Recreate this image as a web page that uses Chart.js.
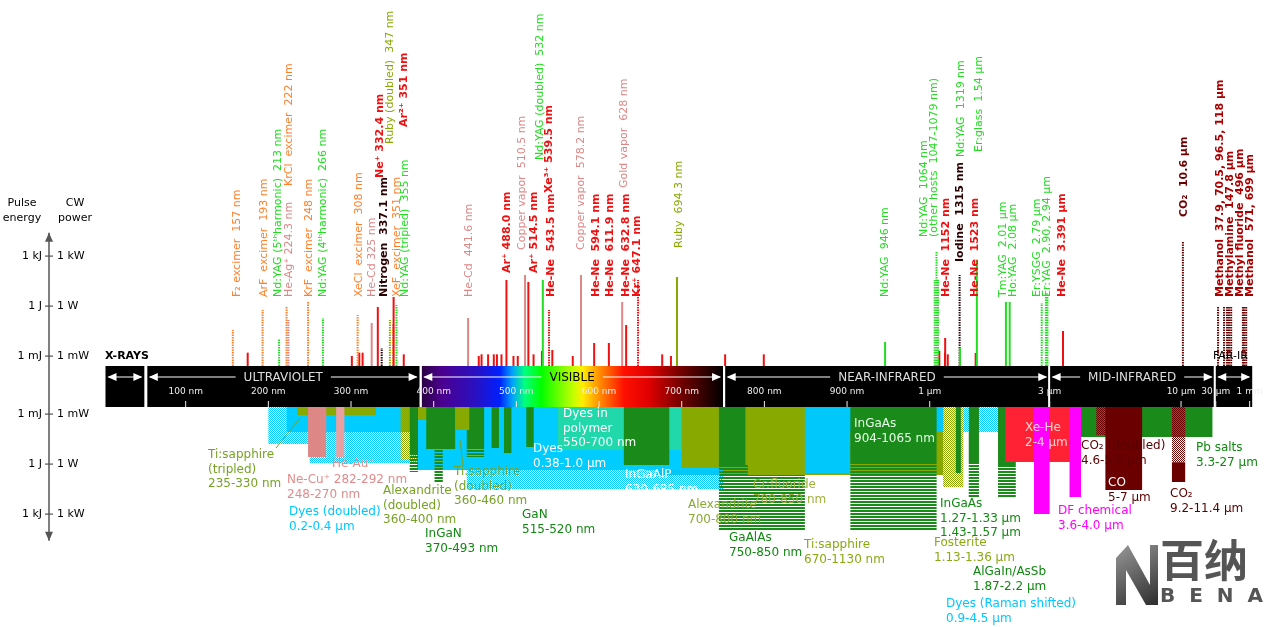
<!DOCTYPE html>
<html><head><meta charset="utf-8">
<script src="https://cdn.jsdelivr.net/npm/chart.js@4.4.1/dist/chart.umd.min.js"></script>
<style>html,body{margin:0;padding:0;background:#fff}#wrap{width:1280px;height:627px}</style>
</head><body><div id="wrap"><canvas id="c" width="1280" height="627"></canvas></div>
<script>
// ---------- DATA ----------
// Discrete laser lines: wavelength (nm), log10(pulse energy / 1 mJ) reached, colour key, dotted?
const lineWavelengths = [157,193,213,222,224.3,248,266,308,325,332.4,337.1,347,351,351.5,355,441.6,488,510.5,514.5,532,539.5,543.5,578.2,594.1,611.9,628,632.8,647.1,694.3,946,1047,1064,1079,1152,1315,1319,1523,1540,2010,2080,2790,2900,2940,3391,10600,37900,70500,96500,118000,147800,496000,571000,699000];
const lineLevels      = [1.56,2.76,1.02,3.0,2.16,3.24,2.28,2.46,1.98,2.94,0.48,2.16,1.9,3.54,3.06,2.28,4.56,4.86,4.44,4.56,2.76,0.36,4.86,0.78,0.78,3.24,1.86,4.56,4.74,0.84,4.56,6.24,4.56,1.08,4.86,0.5,0.18,5.76,3.24,3.24,3.18,3.78,3.78,1.5,6.84,2.94,2.94,2.94,2.94,2.94,2.94,2.94,2.94];
const lineColors      = ['orange','orange','green','orange','pink','orange','green','orange','pink','red','dark','olive','orange','red','green','pink','red','pink','red','green','red','red','pink','red','red','pink','red','red','olive','green','green','green','green','red','dark','green','red','green','green','green','green','green','green','red','maroon','maroon','maroon','maroon','maroon','maroon','maroon','maroon','maroon'];
const lineDotted      = [1,1,1,1,1,1,1,1,0,0,1,1,1,0,1,0,0,0,0,0,1,0,0,0,0,0,0,1,0,0,1,1,1,0,1,0,0,0,0,0,1,1,1,0,1,1,1,1,1,1,1,1,1];
// Minor weak lines near the band
const minorWavelengths = [175,301,310,314,363.8,454.5,457.9,465.8,472.7,476.5,482,496.5,501.7,520.8,530.9,568.2,676.4,687,752.5,799.3,1092,1150,1180];
const minorLevels      = [0.2,0.0,0.2,0.2,0.1,0.0,0.1,0.1,0.1,0.1,0.1,0.0,0.0,0.1,0.3,0.0,0.1,0.0,0.1,0.1,0.3,0.2,0.1];

// Tunable lasers: start nm, end nm, top level, bottom level = log10(CW power / 1 mW), colour key, fill
const tunStart = [670,440,380,200,222,250,235,248,282,360,380,371,371,391,401,440,440,470,485,512,426,550,630,700,745,745,780,780,849,900,904,904,1130,1270,1430,1430,1870,1870,3300,2000,2600,3600,4600,5000,9200,9200];
const tunEnd   = [1130,750,750,400,400,381,330,270,292,380,430,381,381,426,411,461,461,479,494,521,443,700,685,800,849,777,850,850,904,4500,1065,1065,1360,1330,1570,1570,2200,2200,27000,4000,3000,4000,5800,7000,11400,11400];
const tunTop   = [null,null,null,null,null,null,null,null,null,null,null,null,2.34,null,null,null,2.04,null,null,null,null,null,null,null,3.06,null,null,1.08,null,null,null,2.94,null,null,null,2.94,null,3.18,null,null,null,null,null,null,null,2.9];
const tunBot   = [3.66,4.5,3.36,1.8,1.08,2.94,0.06,2.58,2.58,2.76,0.36,2.34,3.48,2.1,4.08,2.04,2.58,2.04,2.34,1.98,0.96,2.16,3.06,3.24,6.96,3.06,1.08,3.66,3.54,1.08,2.94,6.96,4.38,3.54,2.94,4.98,3.18,4.98,1.38,2.88,6.0,4.98,1.26,4.56,2.9,4.08];
const tunColor = ['olive','cyan','cyan','cyan','cyan','cyan','olive','pink','pinkL','olive','olive','dgreen','dgreen','dgreen','dgreen','dgreen','dgreen','dgreen','dgreen','dgreen','olive','teal','dgreen','olive','dgreen','dgreen','olive','olive','cyan','cyan','dgreen','dgreen','olive','dgreen','dgreen','dgreen','dgreen','dgreen','dgreen','xered','magenta','magenta','maroonD','maroonD','maroonD','maroonD'];
const tunFill  = ['solid','check','solid','check','solid','check','solid','solid','solid','check','solid','solid','stripe','solid','stripe','solid','stripe','solid','solid','solid','solid','solid','solid','solid','stripe','solid','check','solid','check','check','solid','stripe','check','solid','solid','stripe','solid','stripe','solid','solid','solid','solid','check','solid','check','solid'];

// Axis
const tickWavelengths = [100,200,300,400,500,600,700,800,900,1000,3000,10000,30000,1e6];
const tickLabels = ['100 nm','200 nm','300 nm','400 nm','500 nm','600 nm','700 nm','800 nm','900 nm','1 µm','3 µm','10 µm','30 µm','1 mm'];
const regionNames = ['','ULTRAVIOLET','VISIBLE','NEAR-INFRARED','MID-INFRARED',''];
const regionStart = [3,53,385,752,3000,29500];
const regionEnd   = [50,383,750,2990,29000,1.3e6];
const levelTicks = [0,3,6];
const energyLabels = ['1 mJ','1 J','1 kJ'];
const powerLabels = ['1 mW','1 W','1 kW'];

// ---------- Text annotations (layout) ----------
const topTexts = [
 ['F₂ excimer  157 nm','orange',237,297],['ArF  excimer  193 nm','orange',264,297],['Nd:YAG (5ᵗʰharmonic)  213 nm','green',278,297],
 ['He-Ag⁺ 224.3 nm','pink',289,297],['KrCl  excimer  222 nm','orange',289,186],['KrF  excimer  248 nm','orange',309,297],
 ['Nd:YAG (4ᵗʰharmonic)  266 nm','green',323,297],['XeCl  excimer  308 nm','orange',359,297],['He-Cd 325 nm','pink',372,297],
 ['Nitrogen  337.1 nm','dark',384,297],['Ne⁺ 332.4 nm','red',380,178],['XeF  excimer  351 nm','orange',397,297],
 ['Ruby (doubled)  347 nm','olive',390,144],['Nd:YAG (tripled)  355 nm','green',405,297],['Ar²⁺ 351 nm','red',404,127],
 ['He-Cd  441.6 nm','pink',469,297],['Ar⁺ 488.0 nm','red',507,273],['Copper vapor  510.5 nm','pink',522,250],['Ar⁺ 514.5 nm','red',534,273],
 ['Nd:YAG (doubled)  532 nm','green',540,160],['Xe³⁺ 539.5 nm','red',549,193],['He-Ne  543.5 nm','red',551,297],
 ['Copper vapor  578.2 nm','pink',581,250],['He-Ne  594.1 nm','red',596,297],['He-Ne  611.9 nm','red',610,297],
 ['Gold vapor  628 nm','pink',624,188],['He-Ne  632.8 nm','red',626,297],['Kr⁺ 647.1 nm','red',637,297],['Ruby  694.3 nm','olive',679,248],
 ['Nd:YAG  946 nm','green',885,297],['Nd:YAG  1064 nm','green',924,237],['(other hosts  1047-1079 nm)','green',934,237],
 ['He-Ne  1152 nm','red',946,297],['Iodine  1315 nm','dark',960,262],['Nd:YAG  1319 nm','green',961,157],['He-Ne  1523 nm','red',975,297],
 ['Er:glass  1.54 µm','green',979,152],['Tm:YAG  2.01 µm','green',1003,297],['Ho:YAG  2.08 µm','green',1013,297],
 ['Er:YSGG  2.79 µm','green',1037,297],['Er:YAG  2.90, 2.94 µm','green',1047,297],['He-Ne  3.391 µm','red',1062,297],
 ['CO₂  10.6 µm','maroon',1184,217],['Methanol  37.9, 70.5, 96.5, 118 µm','maroonL',1220,297],['Methylamine  147.8 µm','maroonL',1230,297],
 ['Methyl fluoride  496 µm','maroonL',1240,297],['Methanol  571, 699 µm','maroonL',1250,297]
];
const bottomTexts = [
 [['Ti:sapphire','(tripled)','235-330 nm'],'#76a225',208,455],[['He-Au⁺'],'#e08c8c',332,464],[['Ne-Cu⁺ 282-292 nm','248-270 nm'],'#e08c8c',287,480],
 [['Dyes (doubled)','0.2-0.4 µm'],'#00c8ff',289,512],[['Alexandrite','(doubled)','360-400 nm'],'#76a225',383,491],
 [['Ti:sapphire','(doubled)','360-460 nm'],'#76a225',454,472],[['InGaN','370-493 nm'],'#118811',425,534],[['GaN','515-520 nm'],'#118811',522,515],
 [['Dyes','0.38-1.0 µm'],'#ffffff',533,449],[['Dyes in','polymer','550-700 nm'],'#ffffff',563,414],[['InGaAlP','630-685 nm'],'#ffffff',625,475],
 [['Alexandrite','700-800 nm'],'#8aaa33',688,505],[['Cr:fluoride','780-850 nm'],'#a0b040',753,485],[['GaAlAs','750-850 nm'],'#118811',729,538],
 [['Ti:sapphire','670-1130 nm'],'#88aa11',804,545],[['InGaAs','904-1065 nm'],'#e8ffe8',854,424],
 [['InGaAs','1.27-1.33 µm','1.43-1.57 µm'],'#118811',940,504],[['Fosterite','1.13-1.36 µm'],'#88aa11',934,543],
 [['AlGaIn/AsSb','1.87-2.2 µm'],'#118811',973,572],[['Dyes (Raman shifted)','0.9-4.5 µm'],'#00c8ff',946,604],
 [['Xe-He','2-4 µm'],'#ffd0d0',1025,428],[['DF chemical','3.6-4.0 µm'],'#ff00ff',1058,511],[['CO₂ (doubled)','4.6-5.8 µm'],'#5a0000',1081,446],
 [['CO'],'#ffffff',1108,483],[['5-7 µm'],'#5a0000',1108,498],[['CO₂','9.2-11.4 µm'],'#5a0000',1170,494],[['Pb salts','3.3-27 µm'],'#118811',1196,448]
];

// ---------- helpers ----------
const palette = {orange:'#ff7f2a',green:'#22dd22',pink:'#de8787',red:'#ee1111',olive:'#88aa00',dark:'#2b0000',maroon:'#6b0000',maroonL:'#aa0000',
  cyan:'#00ccff',dgreen:'#1a8a1a',teal:'#20d8aa',pinkL:'#e8a0a0',xered:'#ff2235',magenta:'#ff00ff',maroonD:'#6b0000'};
const boldKeys = ['red','dark','maroon','maroonL'];
const toAxis = l => l<=1000 ? l : l<=10000 ? 1000+Math.log10(l/1000)*304 : l<=30000 ? 1304+Math.log10(l/10000)/Math.log10(3)*42 : 1346+Math.log10(l/30000)/Math.log10(1e6/30000)*41;
const BAND_TOP = -0.6, BAND_BOT = -3.06, GAP = 3.48;
const botY = v => -GAP - v;
function pattern(color, kind){
  const c=document.createElement('canvas');
  if(kind==='check'){c.width=2;c.height=2;const g=c.getContext('2d');g.fillStyle=color;g.fillRect(0,0,1,1);g.fillRect(1,1,1,1);}
  else {c.width=1;c.height=3;const g=c.getContext('2d');g.fillStyle=color;g.fillRect(0,0,1,2);}
  return document.getElementById('c').getContext('2d').createPattern(c,'repeat');
}

const datasets=[];
tunStart.forEach((s,i)=>{
  const u0=toAxis(s),u1=toAxis(tunEnd[i]);
  const yt = tunTop[i]==null ? BAND_BOT : botY(tunTop[i]), yb=botY(tunBot[i]);
  const col=palette[tunColor[i]];
  datasets.push({data:[{x:u0,y:yt},{x:u1,y:yt},{x:u1,y:yb},{x:u0,y:yb},{x:u0,y:yt}],
    fill:'shape',backgroundColor: tunFill[i]==='solid'?col:pattern(col,tunFill[i]),borderWidth:0,pointRadius:0,showLine:true,tension:0});
});
minorWavelengths.forEach((w,i)=>{
  datasets.push({data:[{x:toAxis(w),y:BAND_TOP},{x:toAxis(w),y:minorLevels[i]}],borderColor:palette.red,borderWidth:2,pointRadius:0,showLine:true,fill:false});
});
lineWavelengths.forEach((w,i)=>{
  datasets.push({data:[{x:toAxis(w),y:BAND_TOP},{x:toAxis(w),y:lineLevels[i]}],borderColor:palette[lineColors[i]],borderWidth:2,
    borderDash: lineDotted[i]?[1.5,1]:[],pointRadius:0,showLine:true,fill:false});
});
datasets.forEach((d,i)=>{d.order=datasets.length-i;});

const FONT='"DejaVu Sans", sans-serif';
const deco={id:'deco',afterDraw(chart){
  const g=chart.ctx,X=chart.scales.x,Y=chart.scales.y;
  const px=l=>X.getPixelForValue(toAxis(l));
  const yT=Y.getPixelForValue(BAND_TOP),yB=Y.getPixelForValue(BAND_BOT);
  g.save();
  regionStart.forEach((s,i)=>{
    const a=px(s),b=px(regionEnd[i]);
    if(i===2){const gr=g.createLinearGradient(a,0,b,0);
      const st=[[385,'#2a0040'],[410,'#4b0090'],[450,'#2a10c0'],[480,'#0020ff'],[495,'#00a0ff'],[510,'#00ff80'],[530,'#00ff00'],[570,'#c8ff00'],[580,'#ffee00'],[600,'#ff9000'],[630,'#ff1000'],[660,'#e00000'],[700,'#700000'],[750,'#000000']];
      st.forEach(([w,c])=>gr.addColorStop((px(w)-a)/(b-a),c)); g.fillStyle=gr;}
    else g.fillStyle='#000';
    g.fillRect(a,yT,b-a,yB-yT);
    const ay=yT+11;
    g.strokeStyle='#fff';g.fillStyle='#fff';g.lineWidth=1;
    g.font='12px '+FONT;
    const name=regionNames[i]; const tw=name?g.measureText(name).width+16:0; const mid=(a+b)/2;
    g.beginPath();
    if(name){g.moveTo(a+3,ay);g.lineTo(mid-tw/2,ay);g.moveTo(mid+tw/2,ay);g.lineTo(b-3,ay);} else {g.moveTo(a+3,ay);g.lineTo(b-3,ay);}
    g.stroke();
    [[a+2,1],[b-2,-1]].forEach(([x,d])=>{g.beginPath();g.moveTo(x,ay);g.lineTo(x+9*d,ay-4);g.lineTo(x+9*d,ay+4);g.closePath();g.fill();});
    if(name){g.fillStyle=i===2?'#000':'#ddd';g.textAlign='center';g.textBaseline='middle';g.fillText(name,mid,ay+1);}
  });
  g.fillStyle='#fff';
  regionStart.slice(1).forEach(s=>{g.fillRect(px(s)-1.5,yT,2,yB-yT);});
  g.font='9px '+FONT;g.textAlign='center';g.textBaseline='middle';
  tickWavelengths.forEach((w,i)=>{const x=px(w);g.fillStyle='#eee';
    g.fillRect(x-0.5,yB-6,1,6);g.fillText(tickLabels[i],x,yB-15);});
  g.fillStyle='#000';g.font='bold 11px '+FONT;g.textAlign='left';g.textBaseline='alphabetic';
  g.fillText('X-RAYS',105,359);
  g.font='11px '+FONT;g.fillText('FAR-IR',1213,359);
  const ax=49, yTop=Y.getPixelForValue(7.4), yBot=Y.getPixelForValue(botY(7.6));
  g.strokeStyle='#555';g.fillStyle='#555';g.lineWidth=1.5;
  g.beginPath();g.moveTo(ax,yTop);g.lineTo(ax,yBot);g.stroke();
  [[yTop,1],[yBot,-1]].forEach(([y,d])=>{g.beginPath();g.moveTo(ax,y);g.lineTo(ax-4,y+9*d);g.lineTo(ax+4,y+9*d);g.closePath();g.fill();});
  g.font='11px '+FONT;g.fillStyle='#000';g.textBaseline='middle';
  levelTicks.forEach((v,i)=>{
    [Y.getPixelForValue(v),Y.getPixelForValue(botY(v))].forEach(y=>{
      g.fillStyle='#555';g.fillRect(ax-4,y-0.5,8,1.2);g.fillStyle='#000';
      g.textAlign='right';g.fillText(energyLabels[i],42,y);g.textAlign='left';g.fillText(powerLabels[i],57,y);
    });
  });
  g.textAlign='center';g.fillText('Pulse',22,203);g.fillText('energy',22,218);g.fillText('CW',75,203);g.fillText('power',75,218);
  g.textAlign='left';g.textBaseline='middle';
  topTexts.forEach(([t,c,x,y])=>{g.save();g.font=(boldKeys.includes(c)?'bold ':'')+'11px '+FONT;g.translate(x,y);g.rotate(-Math.PI/2);g.fillStyle=palette[c];g.fillText(t,0,0);g.restore();});
  g.strokeStyle='#76a225';g.lineWidth=1;g.beginPath();g.moveTo(300,418);g.lineTo(276,448);g.moveTo(460,440);g.lineTo(463,466);g.stroke();
  g.font='12px '+FONT;g.textBaseline='middle';
  bottomTexts.forEach(([lines,c,x,y])=>{g.fillStyle=c;lines.forEach((t,k)=>g.fillText(t,x,y+k*14.5));});
  g.fillStyle='#555';g.font='bold 44px "Noto Sans CJK SC"';g.fillText('百纳',1160,560);
  g.font='bold 20px '+FONT;g.fillText('B  E  N  A',1160,597);
  const lg=g.createLinearGradient(1115,545,1150,605);lg.addColorStop(0,'#999');lg.addColorStop(1,'#333');
  g.fillStyle=lg;g.beginPath();g.moveTo(1116,605);g.lineTo(1116,558);g.lineTo(1128,545);g.lineTo(1150,585);g.lineTo(1150,545);g.lineTo(1158,545);g.lineTo(1158,605);g.lineTo(1146,605);g.lineTo(1126,570);g.lineTo(1126,605);g.closePath();g.fill();
  g.restore();
}};

new Chart(document.getElementById('c'),{
  type:'scatter',
  data:{datasets},
  options:{responsive:false,animation:false,events:[],
    layout:{padding:0},
    plugins:{legend:{display:false},tooltip:{enabled:false}},
    elements:{line:{tension:0}},
    scales:{x:{type:'linear',display:false,min:-124.6,max:1423.7},y:{type:'linear',display:false,min:-16.26,max:21.36}}},
  plugins:[deco]
});
</script></body></html>
